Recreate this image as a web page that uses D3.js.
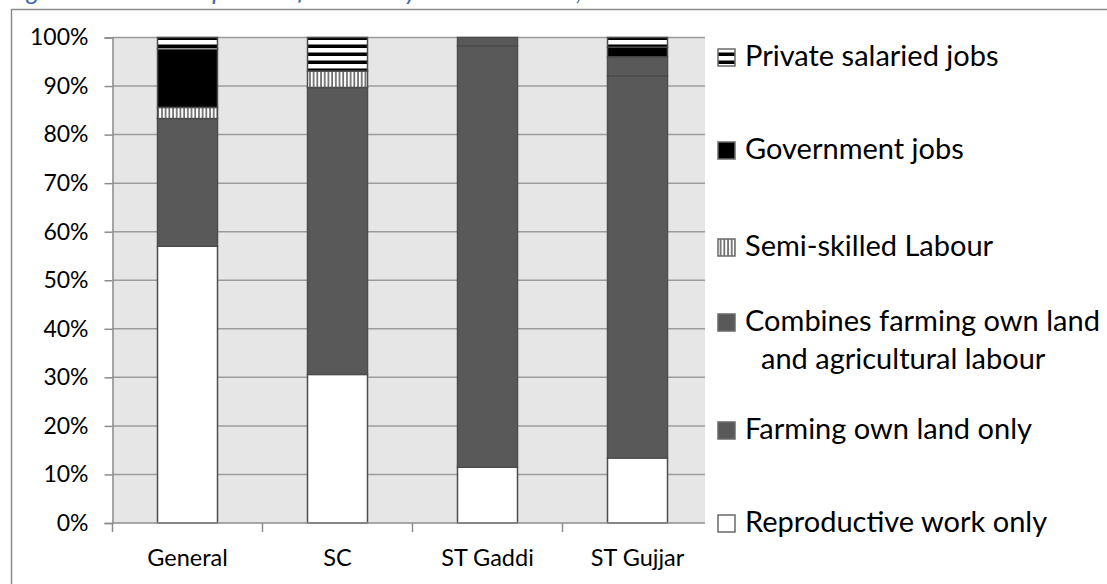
<!DOCTYPE html>
<html>
<head>
<meta charset="utf-8">
<script src="https://cdn.jsdelivr.net/npm/d3@7"></script>
<style>
  html, body { margin: 0; padding: 0; background: #fff; }
  svg { display: block; }
  text { font-family: Lato, "Noto Sans", sans-serif; fill: #000; }
</style>
</head>
<body>
<svg id="chart" width="1107" height="584"></svg>
<script>
// Women's primary occupation by social group (percent of respondents)
const categories = ["General", "SC", "ST Gaddi", "ST Gujjar"];

// stacked from the bottom of each column upwards
const reproductiveWork = [57.0, 30.6, 11.5, 13.4];
const farmingOwnLand   = [26.3, 59.1, 86.8, 78.7];
const combinedFarming  = [0.0, 0.0, 1.7, 3.9];
const semiSkilled      = [2.3, 3.4, 0.0, 0.0];
const governmentJobs   = [12.0, 0.0, 0.0, 2.0];
const privateSalaried  = [2.4, 6.9, 0.0, 2.0];

const seriesNames = [
  "Reproductive work only",
  "Farming own land only",
  "Combines farming own land and agricultural labour",
  "Semi-skilled Labour",
  "Government jobs",
  "Private salaried jobs"
];
const seriesValues = [reproductiveWork, farmingOwnLand, combinedFarming, semiSkilled, governmentJobs, privateSalaried];
const yTicks = [0, 10, 20, 30, 40, 50, 60, 70, 80, 90, 100];
const captionText = "Figure 3: Main occupation of women by caste and tribe, Chamba district";

const svg = d3.select("#chart");

// stripe fills
const defs = svg.append("defs");
const hStripe = defs.append("pattern").attr("id", "hstripe")
  .attr("patternUnits", "userSpaceOnUse").attr("width", 8).attr("height", 8);
hStripe.append("rect").attr("width", 8).attr("height", 8).attr("fill", "#fff");
hStripe.append("rect").attr("y", 4.5).attr("width", 8).attr("height", 3.5).attr("fill", "#000");

const vStripe = defs.append("pattern").attr("id", "vstripe")
  .attr("patternUnits", "userSpaceOnUse").attr("width", 3.7).attr("height", 4);
vStripe.append("rect").attr("width", 3.7).attr("height", 4).attr("fill", "#fff");
vStripe.append("rect").attr("x", 2).attr("width", 1.7).attr("height", 4).attr("fill", "#6a6a6a");

const fills = ["#ffffff", "#595959", "#595959", "url(#vstripe)", "#000000", "url(#hstripe)"];

// stacked layout
const rows = categories.map((c, i) => {
  const r = { category: c };
  seriesNames.forEach((s, j) => { r[s] = seriesValues[j][i]; });
  return r;
});
const stacked = d3.stack().keys(seriesNames)(rows);

const plotLeft = 112.5, plotRight = 712.5, plotBgRight = 705;
const x = d3.scaleBand().domain(categories).range([plotLeft, plotRight])
  .paddingInner(0.6).paddingOuter(0.3);
const y = d3.scaleLinear().domain([0, 100]).range([523, 37.5]);

// caption above the chart frame; the page starts just below its baseline
svg.append("text").attr("x", 8).attr("y", -0.5)
  .attr("font-family", "Lato").attr("font-style", "italic").attr("font-size", 25)
  .attr("fill", "#3a66b4").style("fill", "#3a66b4").text(captionText);

// outer chart frame
svg.append("path").attr("d", "M11.5,600 V9.5 H1200")
  .attr("fill", "none").attr("stroke", "#8a8a8a").attr("stroke-width", 1.5);

// plot background
svg.append("rect").attr("x", plotLeft).attr("y", y(100))
  .attr("width", plotBgRight - plotLeft).attr("height", y(0) - y(100))
  .attr("fill", "#e6e6e6");

// gridlines
svg.append("g").selectAll("line").data(yTicks.filter(d => d > 0)).join("line")
  .attr("x1", plotLeft).attr("x2", plotBgRight)
  .attr("y1", d => y(d)).attr("y2", d => y(d))
  .attr("stroke", "#9c9c9c").attr("stroke-width", 1.5);

// bars
svg.append("g").selectAll("g").data(stacked).join("g")
  .attr("fill", (d, i) => fills[i])
  .selectAll("rect").data(d => d.filter(p => p[1] - p[0] > 0)).join("rect")
  .attr("x", d => x(d.data.category))
  .attr("width", x.bandwidth())
  .attr("y", d => y(d[1]))
  .attr("height", d => y(d[0]) - y(d[1]))
  .attr("stroke", "#4d4d4d").attr("stroke-width", 1.5);

// y axis
const yAxis = svg.append("g").attr("transform", `translate(${plotLeft},0)`)
  .call(d3.axisLeft(y).tickValues(yTicks).tickFormat(d => d + "%").tickSize(8).tickPadding(16));
yAxis.select(".domain").attr("stroke", "#8c8c8c").attr("stroke-width", 1.5);
yAxis.selectAll(".tick line").attr("stroke", "#8c8c8c").attr("stroke-width", 1.5);
yAxis.selectAll(".tick text").attr("font-size", 23).attr("font-family", "Lato").attr("fill", "#000");

// x axis line, boundary ticks and category labels
const gap = x.step() - x.bandwidth();
const xAxis = svg.append("g");
xAxis.append("line").attr("x1", plotLeft).attr("x2", plotBgRight)
  .attr("y1", y(0)).attr("y2", y(0)).attr("stroke", "#8c8c8c").attr("stroke-width", 1.5);
xAxis.selectAll(".bt").data(categories).join("line").attr("class", "bt")
  .attr("x1", d => x(d) - gap / 2).attr("x2", d => x(d) - gap / 2)
  .attr("y1", y(0)).attr("y2", y(0) + 9)
  .attr("stroke", "#8c8c8c").attr("stroke-width", 1.5);
xAxis.selectAll(".lbl").data(categories).join("text").attr("class", "lbl")
  .attr("x", d => x(d) + x.bandwidth() / 2).attr("y", 566)
  .attr("text-anchor", "middle").attr("font-size", 23.5).text(d => d);

// legend
const legendItems = [
  { key: 5, lines: ["Private salaried jobs"], base: 66 },
  { key: 4, lines: ["Government jobs"], base: 159 },
  { key: 3, lines: ["Semi-skilled Labour"], base: 256 },
  { key: 2, lines: ["Combines farming own land", "and agricultural labour"], base: 331 },
  { key: 1, lines: ["Farming own land only"], base: 439 },
  { key: 0, lines: ["Reproductive work only"], base: 532 }
];
const legend = svg.append("g");
legend.append("rect").attr("x", plotBgRight).attr("y", y(100) - 2)
  .attr("width", 400).attr("height", 530).attr("fill", "#fff");
const li = legend.selectAll(".li").data(legendItems).join("g").attr("class", "li");
li.append("rect").attr("x", 718).attr("y", d => d.base - 17)
  .attr("width", 17).attr("height", 17)
  .attr("fill", d => fills[d.key]).attr("stroke", "#6a6a6a").attr("stroke-width", 1.5);
li.each(function (d) {
  const g = d3.select(this);
  d.lines.forEach((t, k) => {
    g.append("text").attr("x", k === 0 ? 745 : 761).attr("y", d.base + k * 38)
      .attr("font-size", 29).text(t);
  });
});
</script>
</body>
</html>
